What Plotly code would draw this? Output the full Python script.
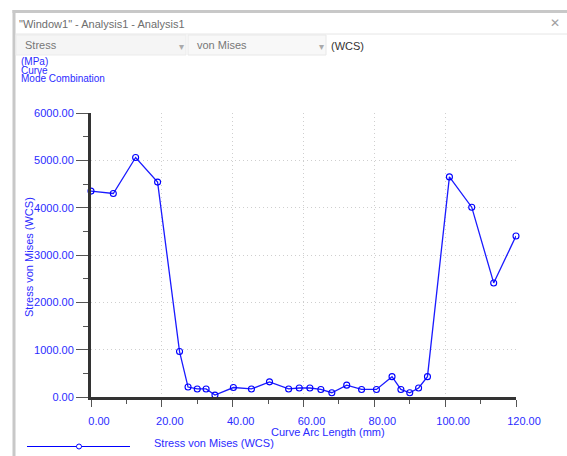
import plotly.graph_objects as go

# ---- data ----
arc_length_mm = [0, 6.3, 12.6, 18.8, 25.0, 27.4, 30.0, 32.5, 35.0, 40.2, 45.3, 50.4,
                 55.8, 58.8, 61.8, 64.9, 68.0, 72.2, 76.4, 80.6, 85.0, 87.5, 90.0,
                 92.5, 95.0, 101.2, 107.5, 113.7, 120.0]
stress_mpa = [4350, 4300, 5060, 4540, 960, 210, 170, 170, 40, 200, 170, 320,
              170, 190, 190, 160, 90, 250, 160, 160, 430, 160, 90, 190, 430,
              4650, 4010, 2410, 3400]
x_tick_vals = [0, 20, 40, 60, 80, 100, 120]
x_tick_text = ["0.00", "20.00", "40.00", "60.00", "80.00", "100.00", "120.00"]
y_tick_vals = [0, 1000, 2000, 3000, 4000, 5000, 6000]
y_tick_text = ["0.00", "1000.00", "2000.00", "3000.00", "4000.00", "5000.00", "6000.00"]

W, H = 567, 456
L, R, T, B = 91, 51, 113, 59
PW, PH = W - L - R, H - T - B

def px(x):
    return (x - L) / PW

def py(y):
    return (H - B - y) / PH

BLUE = "#0000ff"
TXT_BLUE = "#2b2bff"
FONT = "Liberation Sans, Arial, sans-serif"

fig = go.Figure()
fig.add_trace(go.Scatter(
    x=arc_length_mm, y=stress_mpa, mode="lines+markers",
    line=dict(color="#1a1aff", width=1.3),
    marker=dict(symbol="circle-open", size=6, color=BLUE, line=dict(width=1.1)),
    cliponaxis=False, showlegend=False,
    name="Stress von Mises (WCS)",
))

axis_common = dict(
    showline=True, linecolor="#333333", linewidth=3, mirror=False,
    ticks="outside", tickcolor="#555555", tickwidth=1,
    showgrid=True, gridcolor="#cfcfcf", gridwidth=1, griddash="1px,3px",
    zeroline=False, tickfont=dict(family=FONT, size=11, color=TXT_BLUE),
)

fig.update_xaxes(
    range=[0, 120], tickmode="array", tickvals=x_tick_vals, ticktext=x_tick_text,
    ticklen=7, ticklabelshift=8, ticklabelstandoff=5,
    minor=dict(tickmode="linear", tick0=0, dtick=10, ticklen=4, ticks="outside",
               tickcolor="#555555", showgrid=False),
    **axis_common,
)
fig.update_yaxes(
    range=[0, 6000], tickmode="array", tickvals=y_tick_vals, ticktext=y_tick_text,
    ticklen=12,
    minor=dict(tickmode="linear", tick0=0, dtick=500, ticklen=5, ticks="outside",
               tickcolor="#555555", showgrid=False),
    **axis_common,
)

shapes = [
    # window borders
    dict(type="rect", xref="paper", yref="paper", x0=px(12.5), x1=px(15.5), y0=py(456), y1=py(10),
         fillcolor="#c8c8c8", line=dict(width=0), layer="below"),
    dict(type="rect", xref="paper", yref="paper", x0=px(12.5), x1=px(567), y0=py(13), y1=py(10),
         fillcolor="#c8c8c8", line=dict(width=0), layer="below"),
    # title bar separator
    dict(type="line", xref="paper", yref="paper", x0=px(16), x1=px(567), y0=py(34), y1=py(34),
         line=dict(color="#e6e6e6", width=1)),
    # dropdown boxes
    dict(type="rect", xref="paper", yref="paper", x0=px(16), x1=px(186), y0=py(55), y1=py(35),
         fillcolor="#f5f5f5", line=dict(color="#ebebeb", width=1), layer="below"),
    dict(type="rect", xref="paper", yref="paper", x0=px(188), x1=px(326), y0=py(55), y1=py(35),
         fillcolor="#f8f8f8", line=dict(color="#e8e8e8", width=1), layer="below"),
    # legend sample
    dict(type="line", xref="paper", yref="paper", x0=px(27), x1=px(130), y0=py(446.5), y1=py(446.5),
         line=dict(color=BLUE, width=1)),
    dict(type="circle", xref="paper", yref="paper", x0=px(76.5), x1=px(81.5), y0=py(449), y1=py(444),
         fillcolor="white", line=dict(color=BLUE, width=1)),
]

def ann(text, x, y, size=11, color=TXT_BLUE, xanchor="left", angle=0, family=FONT):
    return dict(text=text, x=px(x), y=py(y), xref="paper", yref="paper", showarrow=False,
                xanchor=xanchor, yanchor="middle", textangle=angle,
                font=dict(family=family, size=size, color=color))

annotations = [
    ann("\"Window1\" - Analysis1 - Analysis1", 17, 23.5, size=11, color="#6e6e6e"),
    ann("✕", 555, 23, size=12, color="#a0a0a0", xanchor="center", family="DejaVu Sans"),
    ann("Stress", 23, 45, size=11, color="#777777"),
    ann("▾", 181, 46, size=10, color="#aaaaaa", xanchor="center", family="DejaVu Sans"),
    ann("von Mises", 195, 45, size=11, color="#777777"),
    ann("▾", 321, 46, size=10, color="#aaaaaa", xanchor="center", family="DejaVu Sans"),
    ann("(WCS)", 329, 46, size=11, color="#333333"),
    ann("(MPa)", 19, 61, size=10),
    ann("Curve", 19, 70, size=10),
    ann("Mode Combination", 19, 79, size=10),
    ann("Stress von Mises (WCS)", 29, 257, size=11, xanchor="center", angle=-90),
    ann("Curve Arc Length (mm)", 328, 432, size=11, xanchor="center"),
    ann("Stress von Mises (WCS)", 152, 443, size=11),
]

fig.update_layout(
    width=W, height=H, autosize=False,
    margin=dict(l=L, r=R, t=T, b=B, pad=0),
    paper_bgcolor="white", plot_bgcolor="white",
    shapes=shapes, annotations=annotations,
    showlegend=False,
)

fig.write_html("out.html")
